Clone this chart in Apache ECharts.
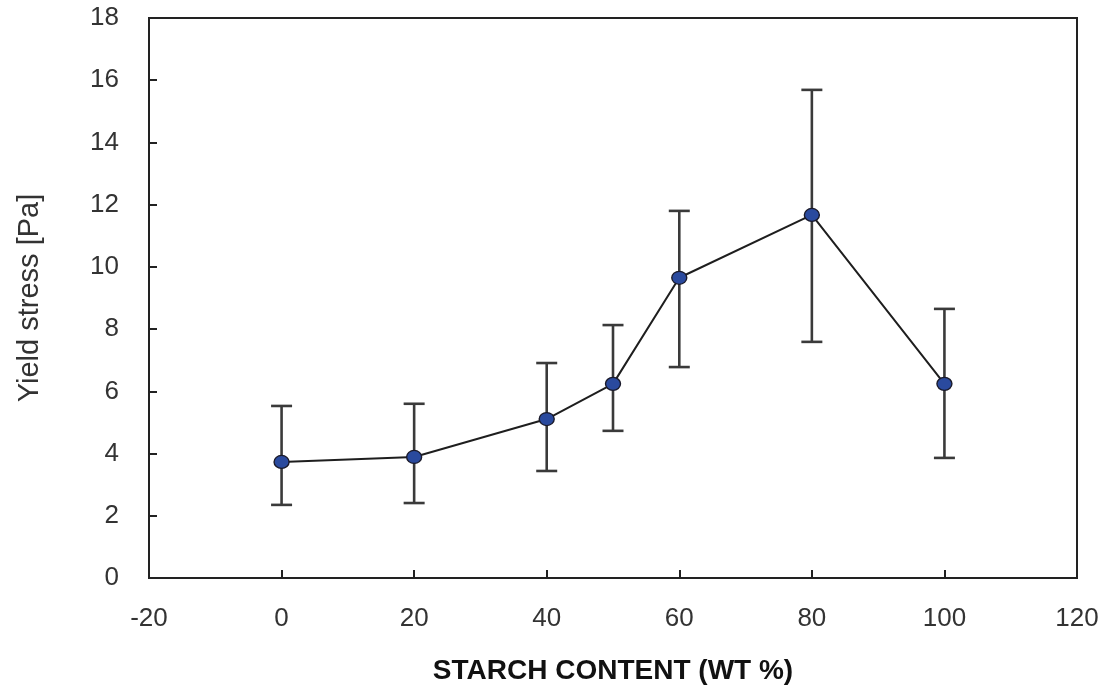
<!DOCTYPE html>
<html><head><meta charset="utf-8">
<script src="https://cdn.jsdelivr.net/npm/echarts@6/dist/echarts.min.js"></script>
<style>html,body{margin:0;padding:0;background:#fff}#c{width:1111px;height:686px}</style>
</head><body><div id="c"></div>
<script>
const starch = [0, 20, 40, 50, 60, 80, 100];
const yieldStress = [3.73, 3.89, 5.11, 6.24, 9.65, 11.67, 6.24];
const errLow = [2.35, 2.41, 3.44, 4.73, 6.78, 7.59, 3.86];
const errHigh = [5.53, 5.60, 6.91, 8.13, 11.80, 15.69, 8.65];
const xTicks = [-20, 0, 20, 40, 60, 80, 100, 120];
const yTicks = [0, 2, 4, 6, 8, 10, 12, 14, 16, 18];

const chart = echarts.init(document.getElementById('c'));
const font = 'Liberation Sans, Arial, sans-serif';
const lineData = starch.map((x, i) => [x, yieldStress[i]]);
const errData = starch.map((x, i) => [x, errLow[i], errHigh[i]]);

chart.setOption({
  animation: false,
  grid: { left: 149, right: 34, top: 18, bottom: 108, outerBoundsMode: 'none', containLabel: false,
    show: true, borderColor: '#222', borderWidth: 2 },
  xAxis: {
    type: 'value', min: -20, max: 120, interval: 20,
    name: 'STARCH CONTENT (WT %)', nameLocation: 'middle', nameGap: 79,
    nameTextStyle: { fontFamily: font, fontSize: 28, fontWeight: 'bold', color: '#111' },
    axisLine: { onZero: false, lineStyle: { color: '#222', width: 2 } },
    axisTick: { inside: true, length: 8, lineStyle: { color: '#222', width: 2 } },
    axisLabel: { fontFamily: font, fontSize: 26, color: '#333', margin: 28,
      formatter: v => xTicks.includes(v) ? String(v) : '' },
    splitLine: { show: false }
  },
  yAxis: {
    type: 'value', min: 0, max: 18, interval: 2,
    name: 'Yield stress [Pa]', nameLocation: 'middle', nameGap: 105,
    nameTextStyle: { fontFamily: font, fontSize: 29, color: '#333' },
    axisLine: { onZero: false, lineStyle: { color: '#222', width: 2 } },
    axisTick: { inside: true, length: 8, lineStyle: { color: '#222', width: 2 } },
    axisLabel: { fontFamily: font, fontSize: 26, color: '#333', margin: 30,
      formatter: v => yTicks.includes(v) ? String(v) : '' },
    splitLine: { show: false }
  },
  series: [
    {
      type: 'custom',
      data: errData,
      encode: { x: 0, y: [1, 2] },
      z: 1,
      renderItem: function (params, api) {
        const x = api.value(0);
        const lo = api.coord([x, api.value(1)]);
        const hi = api.coord([x, api.value(2)]);
        const hw = 10.5;
        const style = { stroke: '#3a3a3a', lineWidth: 2.6 };
        return {
          type: 'group',
          children: [
            { type: 'line', shape: { x1: lo[0], y1: lo[1], x2: hi[0], y2: hi[1] }, style: style },
            { type: 'line', shape: { x1: lo[0] - hw, y1: lo[1], x2: lo[0] + hw, y2: lo[1] }, style: style },
            { type: 'line', shape: { x1: hi[0] - hw, y1: hi[1], x2: hi[0] + hw, y2: hi[1] }, style: style }
          ]
        };
      }
    },
    {
      type: 'line',
      data: lineData,
      z: 2,
      symbol: 'circle',
      symbolSize: [15, 13],
      lineStyle: { color: '#1e1e1e', width: 2 },
      itemStyle: { color: '#2a4a9e', borderColor: '#1a1a2a', borderWidth: 1.3 }
    }
  ]
});
</script>
</body></html>
